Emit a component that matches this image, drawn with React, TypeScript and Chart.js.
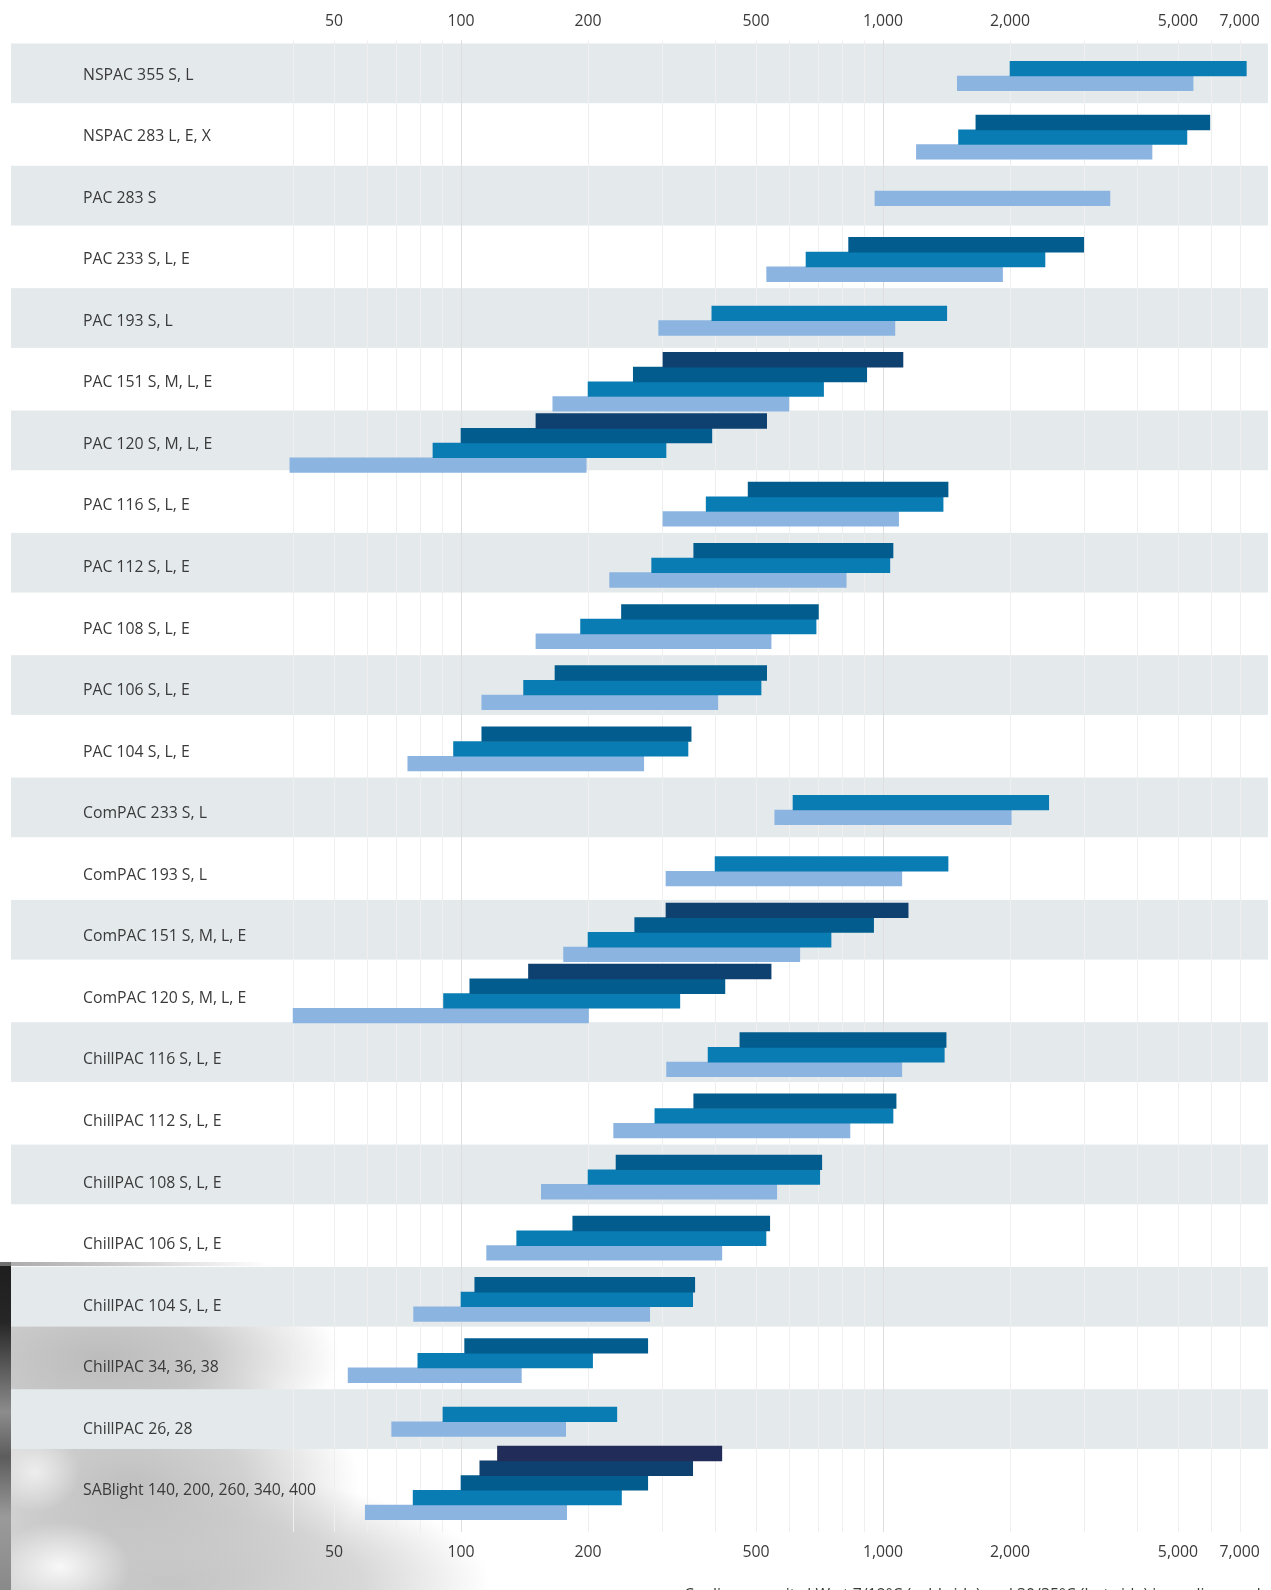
import React, { useEffect, useRef } from 'react';
import { Chart, registerables } from 'chart.js';

Chart.register(...registerables);

const categories = [
  'NSPAC 355 S, L',
  'NSPAC 283 L, E, X',
  'PAC 283 S',
  'PAC 233 S, L, E',
  'PAC 193 S, L',
  'PAC 151 S, M, L, E',
  'PAC 120 S, M, L, E',
  'PAC 116 S, L, E',
  'PAC 112 S, L, E',
  'PAC 108 S, L, E',
  'PAC 106 S, L, E',
  'PAC 104 S, L, E',
  'ComPAC 233 S, L',
  'ComPAC 193 S, L',
  'ComPAC 151 S, M, L, E',
  'ComPAC 120 S, M, L, E',
  'ChillPAC 116 S, L, E',
  'ChillPAC 112 S, L, E',
  'ChillPAC 108 S, L, E',
  'ChillPAC 106 S, L, E',
  'ChillPAC 104 S, L, E',
  'ChillPAC 34, 36, 38',
  'ChillPAC 26, 28',
  'SABlight 140, 200, 260, 340, 400',
];

// capacity ranges [min, max] per variant (1st = smallest variant)
const variant1 = [
  [1500, 5430], [1200, 4340], [957, 3450], [530, 1920], [294, 1067], [165, 598],
  [39.3, 198], [301, 1089], [225, 818], [150.5, 543], [112, 406], [74.8, 271],
  [554, 2013], [306, 1108], [175, 635], [40, 200.5], [307, 1108], [230, 835],
  [155, 560], [115, 415], [77.2, 280], [54, 139], [68.5, 177], [59.3, 178],
];
const variant2 = [
  [2000, 7260], [1510, 5250], null, [657, 2420], [393, 1416], [200, 723],
  [85.8, 306], [381, 1388], [283, 1038], [192, 694], [140.7, 514], [96, 345],
  [612, 2470], [400, 1426], [200, 753], [90.9, 330], [385, 1397], [288, 1056],
  [200, 708], [135.5, 528], [100, 354], [79, 205], [90.6, 234], [77, 240],
];
const variant3 = [
  null, [1660, 5950], null, [829, 2990], null, [256, 915],
  [100, 393], [479, 1426], [356, 1056], [240, 703], [167, 530], [112, 351],
  null, null, [258, 950], [104.9, 422], [458, 1411], [356, 1074],
  [233, 716], [184, 539], [107.8, 358], [102, 277], null, [100, 277],
];
const variant4 = [
  null, null, null, null, null, [301, 1115],
  [150.5, 530], null, null, null, null, null,
  null, null, [306, 1147], [144.5, 543], null, null,
  null, null, null, null, null, [110.8, 354],
];
const variant5 = [
  null, null, null, null, null, null,
  null, null, null, null, null, null,
  null, null, null, null, null, null,
  null, null, null, null, null, [122, 415],
];

const tickValues = [50, 100, 200, 500, 1000, 2000, 5000, 7000];
const gridValues = [
  40, 50, 60, 70, 80, 90,
  100, 200, 300, 400, 500, 600, 700, 800, 900,
  1000, 2000, 3000, 4000, 5000, 6000, 7000,
];
const strongGrid = [100, 1000];

const COLORS = {
  v1: '#8cb4e1',
  v2: '#087cb3',
  v3: '#025c8e',
  v4: '#0e4070',
  v5: '#212d58',
  band: '#e4e9ec',
  text: '#3a3a3a',
};

const FONT = { family: "'Open Sans', 'Noto Sans', sans-serif", size: 15.8 };

const LABEL_LEFT = 83;
const Y_AXIS_WIDTH = 200.7;

const backgroundPlugin = {
  id: 'bandsAndGrid',
  beforeDraw(chart: any) {
    const { ctx, chartArea } = chart;
    const y = chart.scales.y;
    const x = chart.scales.x;
    ctx.save();
    ctx.fillStyle = COLORS.band;
    categories.forEach((_, i) => {
      if (i % 2 === 0) {
        const c = y.getPixelForValue(i);
        ctx.fillRect(11, c - 32.5, 1268 - 11, 59.7);
      }
    });
    ctx.lineWidth = 1;
    gridValues.forEach((v) => {
      const px = Math.round(x.getPixelForValue(v)) + 0.5;
      ctx.strokeStyle = strongGrid.includes(v) ? '#dedede' : '#efefef';
      ctx.beginPath();
      ctx.moveTo(px, chartArea.top - 5);
      ctx.lineTo(px, chartArea.bottom + 18.5);
      ctx.stroke();
    });
    ctx.restore();
  },
};

function zeroPad(s: any) {
  s.paddingLeft = 0;
  s.paddingRight = 0;
  s.paddingTop = 0;
  s.paddingBottom = 0;
}

function xAxis(position: 'top' | 'bottom', padding: number, height: number) {
  return {
    type: 'logarithmic' as const,
    position,
    min: 38,
    max: 8000,
    offset: false,
    grid: { display: false, drawTicks: false },
    border: { display: false },
    afterBuildTicks: (s: any) => {
      s.ticks = tickValues.map((v) => ({ value: v }));
    },
    afterFit: (s: any) => {
      s.height = height;
      zeroPad(s);
    },
    ticks: {
      autoSkip: false,
      maxRotation: 0,
      padding,
      color: COLORS.text,
      font: FONT,
      callback: (v: any) => Number(v).toLocaleString('en-US'),
    },
  };
}

const photoShade = [
  'linear-gradient(to right, rgba(140,140,140,0.75), rgba(210,210,210,0) 270px) 0 0 / 100% 4px no-repeat',
  'linear-gradient(to bottom, #1e1e1e 0px, #262626 60px, #8c8c8c 150px, #5c5c5c 195px, #9a9a9a 255px, #8a8a8a 328px) 0 0 / 11px 100% no-repeat',
  'radial-gradient(ellipse 70px 45px at 60px 305px, rgba(250,250,250,0.95) 0%, rgba(250,250,250,0) 100%)',
  'radial-gradient(ellipse 45px 40px at 35px 210px, rgba(245,245,245,0.8) 0%, rgba(245,245,245,0) 100%)',
  'radial-gradient(ellipse 240px 100px at 100px 96px, rgba(188,188,188,1) 0%, rgba(192,192,192,0.85) 45%, rgba(255,255,255,0) 100%)',
  'radial-gradient(ellipse 230px 130px at 130px 222px, rgba(192,192,192,1) 0%, rgba(198,198,198,0.8) 50%, rgba(255,255,255,0) 100%)',
  'radial-gradient(ellipse 320px 110px at 170px 320px, rgba(196,196,196,1) 0%, rgba(202,202,202,0.75) 60%, rgba(255,255,255,0) 100%)',
  '#ffffff',
].join(', ');

export default function App() {
  const canvasRef = useRef<HTMLCanvasElement | null>(null);

  useEffect(() => {
    if (!canvasRef.current) return;
    const mk = (label: string, data: any[], color: string) => ({
      label,
      data,
      backgroundColor: color,
      borderWidth: 0,
      barThickness: 14.7,
      skipNull: true,
      clip: false as any,
      xAxisID: 'x',
      yAxisID: 'y',
    });
    const chart = new Chart(canvasRef.current, {
      type: 'bar',
      data: {
        labels: categories,
        datasets: [
          mk('Variant 5', variant5, COLORS.v5),
          mk('Variant 4', variant4, COLORS.v4),
          mk('Variant 3', variant3, COLORS.v3),
          mk('Variant 2', variant2, COLORS.v2),
          mk('Variant 1', variant1, COLORS.v1),
        ],
      },
      options: {
        indexAxis: 'y',
        animation: false,
        responsive: true,
        maintainAspectRatio: false,
        layout: { padding: { left: LABEL_LEFT, right: 6.9, top: 0, bottom: 0 } },
        plugins: {
          legend: { display: false },
          tooltip: { enabled: false },
        },
        scales: {
          x: xAxis('bottom', 29.5, 76.5) as any,
          x2: xAxis('top', 14.4, 45.4) as any,
          y: {
            type: 'category',
            display: false,
            afterFit: (s: any) => {
              s.width = 0;
              zeroPad(s);
            },
          },
          y2: {
            type: 'linear',
            position: 'left',
            reverse: true,
            offset: false,
            min: -0.4808,
            max: 23.367,
            grid: { display: false, drawTicks: false, offset: false },
            border: { display: false },
            afterBuildTicks: (s: any) => {
              s.ticks = categories.map((_, i) => ({ value: i }));
            },
            afterFit: (s: any) => {
              s.width = Y_AXIS_WIDTH;
              zeroPad(s);
            },
            ticks: {
              mirror: true,
              crossAlign: 'near',
              padding: -Y_AXIS_WIDTH,
              autoSkip: false,
              color: COLORS.text,
              font: FONT,
              callback: (v: any) => categories[Math.round(Number(v))] ?? '',
            },
          } as any,
        },
      },
      plugins: [backgroundPlugin],
    });
    return () => chart.destroy();
  }, []);

  return (
    <div
      style={{
        position: 'absolute',
        left: 0,
        top: 0,
        width: 1271,
        height: 1590,
        overflow: 'hidden',
        background: '#ffffff',
      }}
    >
      <div
        style={{
          position: 'absolute',
          left: 0,
          top: 1262,
          width: 1271,
          height: 328,
          background: photoShade,
        }}
      />
      <canvas
        ref={canvasRef}
        style={{ position: 'absolute', left: 0, top: 0, display: 'block', width: 1271, height: 1590 }}
      />
      <div
        style={{
          position: 'absolute',
          left: 684,
          top: 1583,
          fontFamily: "'Open Sans', sans-serif",
          fontSize: 15.8,
          color: COLORS.text,
          whiteSpace: 'nowrap',
        }}
      >
        Cooling capacity kW at 7/12°C (cold side) and 30/35°C (hot side) in cooling mode
      </div>
    </div>
  );
}
